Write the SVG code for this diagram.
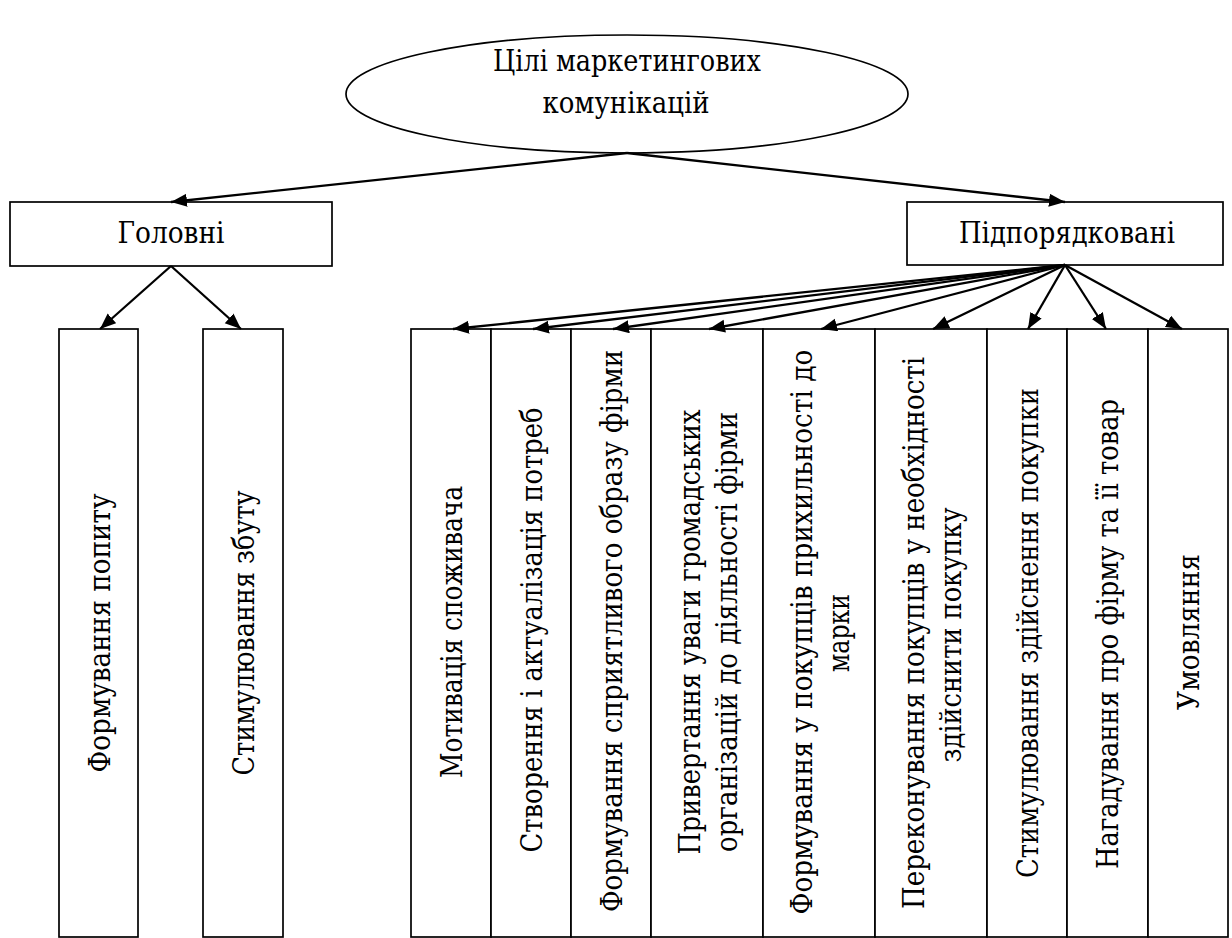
<svg xmlns="http://www.w3.org/2000/svg" width="1232" height="938" viewBox="0 0 1232 938">
<style>
.t{font-family:"DejaVu Serif Condensed","DejaVu Serif",serif;font-stretch:condensed;font-size:29px;fill:#000;text-anchor:middle}
.b{fill:#fff;stroke:#000;stroke-width:1.7}
.c line{stroke:#000;stroke-width:2.3;marker-end:url(#ah)}
</style>
<defs>
<marker id="ah" markerUnits="userSpaceOnUse" markerWidth="18" markerHeight="14" refX="16" refY="6.5" orient="auto">
<path d="M0,0 L16,6.5 L0,13 z" fill="#000"/>
</marker>
</defs>
<rect width="1232" height="938" fill="#fff"/>
<g id="root">
<ellipse class="b" cx="627" cy="94" rx="281" ry="59"/>
<text class="t" x="627" y="71" textLength="268" lengthAdjust="spacingAndGlyphs">Цілі маркетингових</text>
<text class="t" x="626" y="113" textLength="167" lengthAdjust="spacingAndGlyphs">комунікацій</text>
</g>
<g id="main">
<rect class="b" x="10" y="202" width="322" height="64"/>
<text class="t" x="171" y="243" textLength="107" lengthAdjust="spacingAndGlyphs">Головні</text>
</g>
<g id="sub">
<rect class="b" x="907" y="202" width="316" height="63"/>
<text class="t" x="1067" y="243" textLength="216" lengthAdjust="spacingAndGlyphs">Підпорядковані</text>
</g>
<g id="m1">
<rect class="b" x="59" y="329" width="79" height="608"/>
<text class="t" transform="translate(110,633) rotate(-90)" textLength="279" lengthAdjust="spacingAndGlyphs">Формування попиту</text>
</g>
<g id="m2">
<rect class="b" x="203" y="329" width="80" height="608"/>
<text class="t" transform="translate(254,633) rotate(-90)" textLength="285" lengthAdjust="spacingAndGlyphs">Стимулювання збуту</text>
</g>
<g id="s1">
<rect class="b" x="411" y="329" width="80" height="608"/>
<text class="t" transform="translate(462,632) rotate(-90)" textLength="292" lengthAdjust="spacingAndGlyphs">Мотивація споживача</text>
</g>
<g id="s2">
<rect class="b" x="491" y="329" width="80" height="608"/>
<text class="t" transform="translate(542,630) rotate(-90)" textLength="445" lengthAdjust="spacingAndGlyphs">Створення і актуалізація потреб</text>
</g>
<g id="s3">
<rect class="b" x="571" y="329" width="80" height="608"/>
<text class="t" transform="translate(622,631) rotate(-90)" textLength="562" lengthAdjust="spacingAndGlyphs">Формування сприятливого образу фірми</text>
</g>
<g id="s4">
<rect class="b" x="651" y="329" width="112" height="608"/>
<text class="t" transform="translate(700,632) rotate(-90)" textLength="445" lengthAdjust="spacingAndGlyphs">Привертання уваги громадських</text>
<text class="t" transform="translate(737,632) rotate(-90)" textLength="440" lengthAdjust="spacingAndGlyphs">організацій до діяльності фірми</text>
</g>
<g id="s5">
<rect class="b" x="763" y="329" width="112" height="608"/>
<text class="t" transform="translate(812,632) rotate(-90)" textLength="565" lengthAdjust="spacingAndGlyphs">Формування у покупців прихильності до</text>
<text class="t" transform="translate(849,633) rotate(-90)" textLength="78" lengthAdjust="spacingAndGlyphs">марки</text>
</g>
<g id="s6">
<rect class="b" x="875" y="329" width="112" height="608"/>
<text class="t" transform="translate(924,633) rotate(-90)" textLength="552" lengthAdjust="spacingAndGlyphs">Переконування покупців у необхідності</text>
<text class="t" transform="translate(961,635) rotate(-90)" textLength="255" lengthAdjust="spacingAndGlyphs">здійснити покупку</text>
</g>
<g id="s7">
<rect class="b" x="987" y="329" width="80" height="608"/>
<text class="t" transform="translate(1038,633) rotate(-90)" textLength="490" lengthAdjust="spacingAndGlyphs">Стимулювання здійснення покупки</text>
</g>
<g id="s8">
<rect class="b" x="1067" y="329" width="81" height="608"/>
<text class="t" transform="translate(1118,634) rotate(-90)" textLength="470" lengthAdjust="spacingAndGlyphs">Нагадування про фірму та її товар</text>
</g>
<g id="s9">
<rect class="b" x="1148" y="329" width="80" height="608"/>
<text class="t" transform="translate(1199,632) rotate(-90)" textLength="156" lengthAdjust="spacingAndGlyphs">Умовляння</text>
</g>
<g id="connectors" class="c">
<line x1="627" y1="153" x2="171" y2="202"/>
<line x1="627" y1="153" x2="1065" y2="202"/>
<line x1="171" y1="266" x2="100" y2="329"/>
<line x1="171" y1="266" x2="241" y2="329"/>
<line x1="1065" y1="265" x2="453" y2="329"/>
<line x1="1065" y1="265" x2="533" y2="329"/>
<line x1="1065" y1="265" x2="613" y2="329"/>
<line x1="1065" y1="265" x2="709" y2="329"/>
<line x1="1065" y1="265" x2="821" y2="329"/>
<line x1="1065" y1="265" x2="933" y2="329"/>
<line x1="1065" y1="265" x2="1028" y2="329"/>
<line x1="1065" y1="265" x2="1106" y2="329"/>
<line x1="1065" y1="265" x2="1182" y2="329"/>
</g>
</svg>
